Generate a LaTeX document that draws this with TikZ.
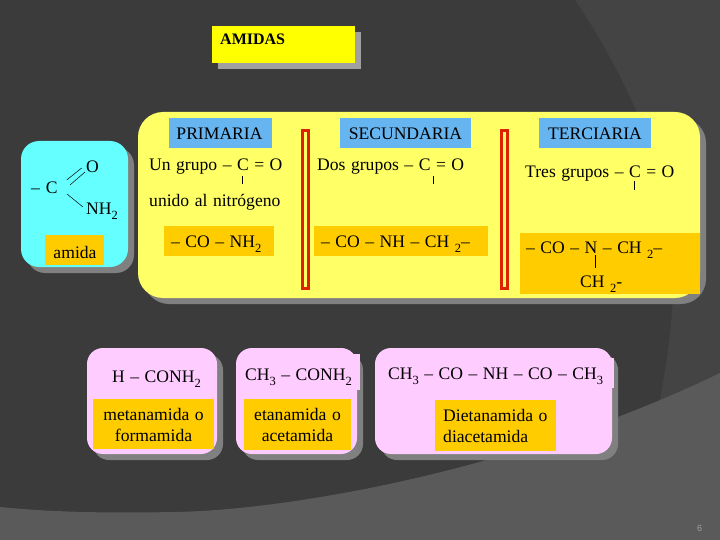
\documentclass[tikz,border=0pt]{standalone}
\usepackage{fontspec}
\setmainfont{Liberation Serif}[WordSpace={1.25}]
\newfontfamily\numfont{Liberation Sans}
\newcommand{\lowsub}[1]{\raisebox{-0.28em}{\fontsize{12.5}{13}\selectfont #1}}
\definecolor{bgdark}{HTML}{3B3B3B}
\definecolor{bgmid}{HTML}{444444}
\definecolor{bglight}{HTML}{5A5A5A}
\definecolor{shadowgrey}{HTML}{808080}
\definecolor{titleshadow}{HTML}{A0A0A0}
\definecolor{titleyellow}{HTML}{FFFF00}
\definecolor{softyellow}{HTML}{FFFF66}
\definecolor{softcyan}{HTML}{66FFFF}
\definecolor{softpink}{HTML}{FFCCFF}
\definecolor{amber}{HTML}{FFCC00}
\definecolor{skyblue}{HTML}{66B5F0}
\definecolor{barred}{HTML}{DD2200}
\tikzset{
  txt/.style={inner sep=0pt,font=\fontsize{17.6}{21}\selectfont,text=black,align=center},
  bond/.style={black,line width=0.5pt},
  panelshadow/.style={fill=shadowgrey,draw=none,rounded corners=#1},
  panel/.style={draw=none,rounded corners=#1},
}
\begin{document}
\begin{tikzpicture}[x=1pt,y=-1pt]
\useasboundingbox (0,0) rectangle (720,540);
% background
\fill[bgdark] (0,0) rectangle (720,540);
\fill[bgmid] (575,0) .. controls (610,50) and (650,130) .. (668,200) .. controls (680,260) and (672,340) .. (658,410) -- (720,410) -- (720,0) -- cycle;
\fill[bglight] (0,507) .. controls (60,513) and (120,513) .. (175,512) .. controls (290,510) and (520,470) .. (720,373) -- (720,540) -- (0,540) -- cycle;
\node[font=\numfont\fontsize{9}{10}\selectfont,text=gray!75!white,inner sep=0pt] (pagenum) at (699.5,528) {6};
% title
\fill[titleshadow] (218,32) rectangle (361,69);
\fill[titleyellow] (212,26) rectangle (355,63);
\node[txt,anchor=west,font=\fontsize{16}{19}\selectfont\bfseries] (title) at (220,39.5) {AMIDAS};
% big yellow panel
\fill[panelshadow=25] (144,118) rectangle (706,304);
\fill[panel=25,softyellow] (138,112) rectangle (700,298);
% cyan panel
\fill[panelshadow=18] (27,147) rectangle (134,273);
\fill[panel=18,softcyan] (21,141) rectangle (128,267);
\fill[amber] (45,235) rectangle (104,265);
\node[txt] (amida) at (75,252) {amida};
\node[txt,anchor=west] (cgroup) at (31,188) {–\hspace{6pt}C};
\node[txt,anchor=west] (oxy) at (86,167) {O};
\node[txt,anchor=west] (nh) at (86,211) {NH\lowsub{2}};
\coordinate (d1a) at (66.7,180); \coordinate (d1b) at (81.7,168);
\coordinate (d2a) at (70,185); \coordinate (d2b) at (85,172);
\coordinate (s1a) at (67,194); \coordinate (s1b) at (83,207);
\draw[bond] (d1a) -- (d1b);
\draw[bond] (d2a) -- (d2b);
\draw[bond] (s1a) -- (s1b);
% red bars
\draw[barred,line width=3pt] (302.5,130.5) rectangle (308.5,288.5);
\draw[barred,line width=3pt] (501.5,130.5) rectangle (507.5,288.5);
% headers
\fill[skyblue] (169,118) rectangle (272,148);
\node[txt] (prim) at (219.5,134) {PRIMARIA};
\fill[skyblue] (340,118) rectangle (471,148);
\node[txt] (sec) at (405.5,134) {SECUNDARIA};
\fill[skyblue] (539,118) rectangle (651,148);
\node[txt] (ter) at (595,134) {TERCIARIA};
% group text
\node[txt,anchor=west] (pt1) at (149,167) {Un grupo – C = O};
\coordinate (pba) at (242.5,176); \coordinate (pbb) at (242.5,184);
\draw[bond] (pba) -- (pbb);
\node[txt,anchor=west] (pt2) at (149,202) {unido al nitrógeno};
\node[txt,anchor=west] (st1) at (317,167) {Dos grupos – C = O};
\coordinate (sba) at (433.5,176); \coordinate (sbb) at (433.5,184);
\draw[bond] (sba) -- (sbb);
\node[txt,anchor=west] (tt1) at (525,173.5) {Tres grupos – C = O};
\coordinate (tba) at (634.5,181); \coordinate (tbb) at (634.5,190);
\draw[bond] (tba) -- (tbb);
% amber formula boxes
\fill[amber] (164,226) rectangle (274,256);
\node[txt,anchor=west] (pf) at (171,244) {– CO – NH\lowsub{2}};
\fill[amber] (314,226) rectangle (488,256);
\node[txt,anchor=west] (sf) at (321,244) {– CO – NH – CH \lowsub{2}–};
\fill[amber] (520,233) rectangle (700,294);
\node[txt,anchor=west] (tf) at (526,250.5) {– CO – N – CH \lowsub{2}–};
\coordinate (nba) at (595.5,255); \coordinate (nbb) at (595.5,268);
\draw[bond] (nba) -- (nbb);
\node[txt,anchor=west] (tf2) at (580,284) {CH \lowsub{2}-};
% pink panels
\fill[panelshadow=16] (93,354) rectangle (223,460);
\fill[panel=16,softpink] (87,348) rectangle (217,454);
\fill[panelshadow=16] (242,354) rectangle (363,460);
\fill[panel=16,softpink] (236,348) rectangle (357,454);
\fill[softpink] (300,354) rectangle (360,390);
\fill[panelshadow=16] (381,354) rectangle (618,460);
\fill[panel=16,softpink] (375,348) rectangle (612,454);
\fill[softpink] (570,358) rectangle (614,388);
\node[txt,anchor=west] (f1) at (112,379) {H – CONH\lowsub{2}};
\node[txt,anchor=west] (f2) at (245,377) {CH\lowsub{3} – CONH\lowsub{2}};
\node[txt,anchor=west] (f3) at (388,376) {CH\lowsub{3} – CO – NH – CO – CH\lowsub{3}};
\fill[amber] (93,399) rectangle (214,449);
\node[txt] (n1) at (153.5,425) {metanamida o\\formamida};
\fill[amber] (244,399) rectangle (351,450);
\node[txt] (n2) at (297.5,425) {etanamida o\\acetamida};
\fill[amber] (435,400) rectangle (556,451);
\node[txt,anchor=west,align=left] (n3) at (443,426) {Dietanamida o\\diacetamida};
\end{tikzpicture}
\end{document}
